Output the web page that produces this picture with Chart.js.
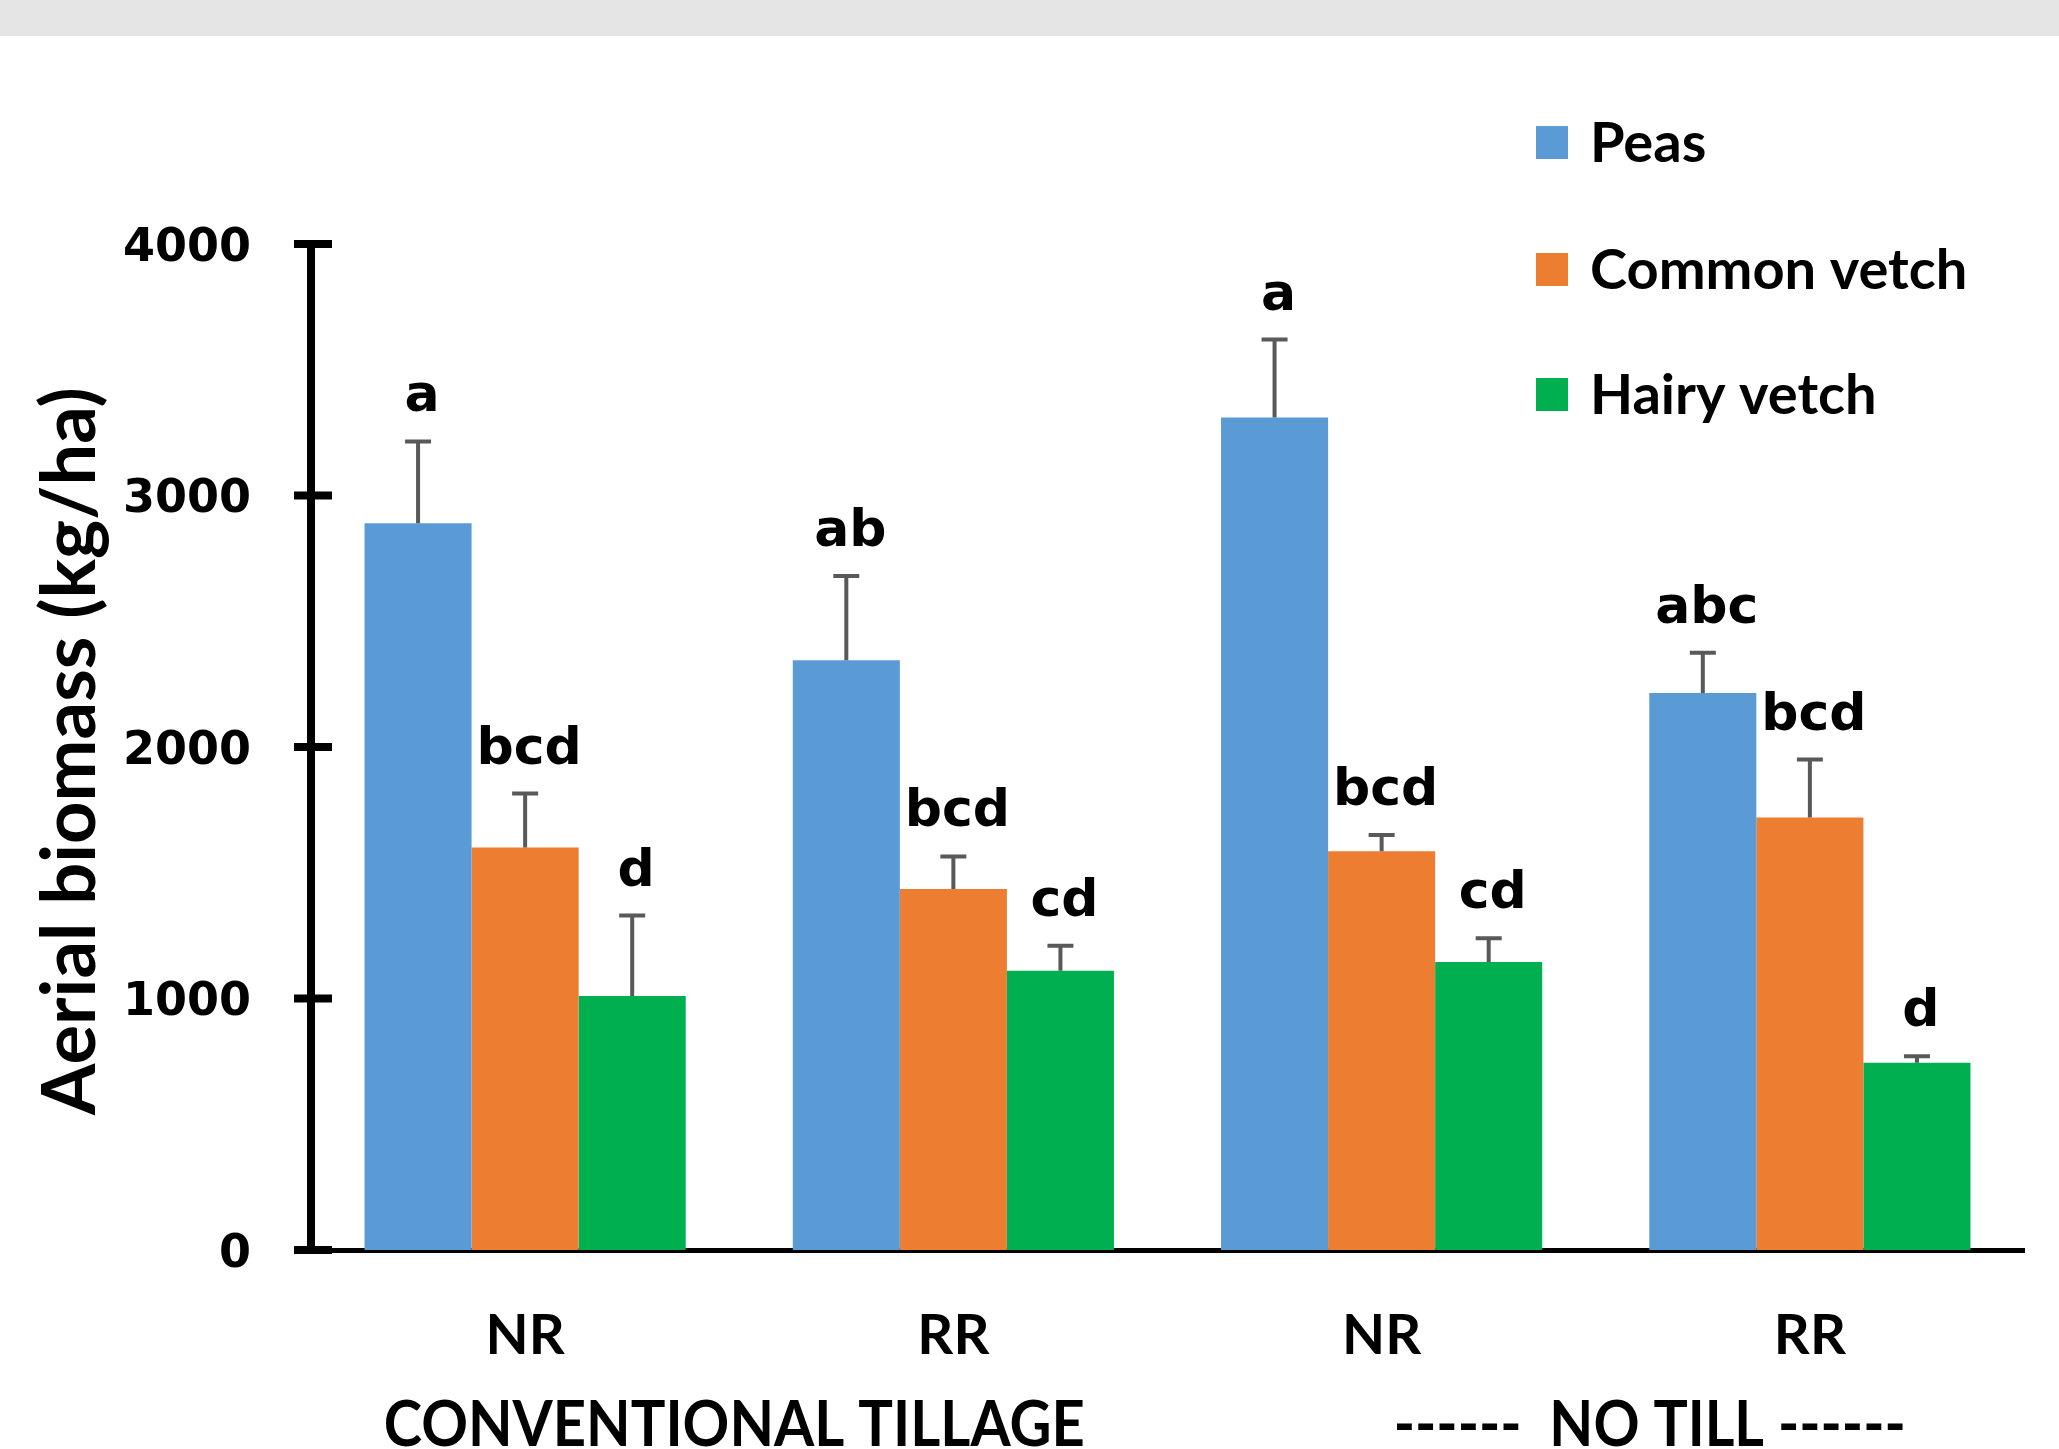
<!DOCTYPE html>
<html>
<head>
<meta charset="utf-8">
<script src="https://cdn.jsdelivr.net/npm/chart.js@4.4.0/dist/chart.umd.min.js"></script>
<style>
  html, body { margin: 0; padding: 0; background: #ffffff; }
  canvas { display: block; }
</style>
</head>
<body>
<canvas id="chartBiomasse" width="2059" height="1449"></canvas>
<script>
// donnees
const categories = ["NR", "RR", "NR", "RR"];
const groupLabels = ["CONVENTIONAL TILLAGE", "------  NO TILL ------"];
const seriesNames = ["Peas", "Common vetch", "Hairy vetch"];

const peas = [2890, 2345, 3310, 2215];
const peasErr = [325, 335, 310, 160];
const peasLetters = ["a", "ab", "a", "abc"];

const commonVetch = [1600, 1435, 1585, 1720];
const commonVetchErr = [215, 130, 65, 230];
const commonVetchLetters = ["bcd", "bcd", "bcd", "bcd"];

const hairyVetch = [1010, 1110, 1145, 745];
const hairyVetchErr = [320, 100, 95, 25];
const hairyVetchLetters = ["d", "cd", "cd", "d"];

const yTicks = [0, 1000, 2000, 3000, 4000];
const yTitle = "Aerial biomass (kg/ha)";

const errors = [peasErr, commonVetchErr, hairyVetchErr];
const letters = [peasLetters, commonVetchLetters, hairyVetchLetters];

// fond blanc + bandeau gris en haut
const fondPlugin = {
  id: "fond",
  beforeDraw(chart) {
    const ctx = chart.ctx;
    ctx.save();
    ctx.fillStyle = "#ffffff";
    ctx.fillRect(0, 0, chart.width, chart.height);
    ctx.fillStyle = "#e5e5e5";
    ctx.fillRect(0, 0, chart.width, 36);
    ctx.restore();
  }
};

// barres d'erreur + lettres de significativite
const erreursPlugin = {
  id: "erreurs",
  afterDatasetsDraw(chart) {
    const ctx = chart.ctx;
    const yScale = chart.scales.y;
    ctx.save();
    chart.data.datasets.forEach((ds, i) => {
      const meta = chart.getDatasetMeta(i);
      meta.data.forEach((bar, j) => {
        const yTop = yScale.getPixelForValue(ds.data[j] + errors[i][j]);
        ctx.strokeStyle = "#595959";
        ctx.lineWidth = 4;
        ctx.beginPath();
        ctx.moveTo(bar.x, bar.y);
        ctx.lineTo(bar.x, yTop);
        ctx.moveTo(bar.x - 13, yTop);
        ctx.lineTo(bar.x + 13, yTop);
        ctx.stroke();

        ctx.fillStyle = "#000000";
        ctx.font = "bold 52px 'DejaVu Sans'";
        ctx.textAlign = "center";
        ctx.textBaseline = "alphabetic";
        ctx.fillText(letters[i][j], bar.x + 4, yTop - 30);
      });
    });
    ctx.restore();
  }
};

// axe y : graduations des deux cotes, titre, legende, groupes
const decorPlugin = {
  id: "decor",
  afterDraw(chart) {
    const ctx = chart.ctx;
    const yScale = chart.scales.y;
    const xScale = chart.scales.x;
    const area = chart.chartArea;
    ctx.save();

    ctx.strokeStyle = "#000000";
    ctx.lineWidth = 8;
    yScale.ticks.forEach((t) => {
      const y = yScale.getPixelForValue(t.value);
      ctx.beginPath();
      ctx.moveTo(area.left - 17, y);
      ctx.lineTo(area.left + 21, y);
      ctx.stroke();
    });

    // titre axe y
    ctx.fillStyle = "#000000";
    ctx.save();
    ctx.translate(95, (area.top + area.bottom) / 2 + 4);
    ctx.rotate(-Math.PI / 2);
    ctx.font = "bold 74px Lato";
    ctx.textAlign = "center";
    ctx.textBaseline = "alphabetic";
    ctx.fillText(yTitle, 0, 0, 742);
    ctx.restore();

    // legende
    const colors = chart.data.datasets.map((d) => d.backgroundColor);
    const legendY = [142, 269, 394];
    ctx.font = "bold 56px Lato";
    ctx.textAlign = "left";
    ctx.textBaseline = "middle";
    seriesNames.forEach((name, i) => {
      ctx.fillStyle = colors[i];
      ctx.fillRect(1536, legendY[i] - 16, 32, 33);
      ctx.fillStyle = "#000000";
      ctx.fillText(name, 1590, legendY[i] + 2, 392);
    });

    // etiquettes de groupe
    ctx.font = "bold 64px Lato";
    ctx.textAlign = "center";
    ctx.textBaseline = "alphabetic";
    const c1 = (xScale.getPixelForValue(0) + xScale.getPixelForValue(1)) / 2;
    const c2 = (xScale.getPixelForValue(2) + xScale.getPixelForValue(3)) / 2 + 54;
    ctx.fillText(groupLabels[0], c1 - 5, 1446, 701);
    ctx.fillText(groupLabels[1], c2, 1446, 512);

    ctx.restore();
  }
};

const ctxBiomasse = document.getElementById("chartBiomasse").getContext("2d");
const chartBiomasse = new Chart(ctxBiomasse, {
  type: "bar",
  data: {
    labels: categories,
    datasets: [
      { label: seriesNames[0], data: peas, backgroundColor: "#5B9BD5" },
      { label: seriesNames[1], data: commonVetch, backgroundColor: "#ED7D31" },
      { label: seriesNames[2], data: hairyVetch, backgroundColor: "#00B050" }
    ]
  },
  options: {
    responsive: false,
    devicePixelRatio: 1,
    animation: false,
    layout: { padding: { top: 244, left: 0, right: 35, bottom: 0 } },
    datasets: {
      bar: { categoryPercentage: 0.75, barPercentage: 1.0, borderWidth: 0 }
    },
    plugins: {
      legend: { display: false },
      tooltip: { enabled: false }
    },
    scales: {
      x: {
        z: 1,
        grid: { display: false, drawTicks: false },
        border: { display: true, color: "#000000", width: 5 },
        ticks: {
          color: "#000000",
          font: { family: "Lato", weight: "bold", size: 56 },
          padding: 52
        },
        afterFit(scale) { scale.height = 199; }
      },
      y: {
        min: 0,
        max: 4000,
        grid: { display: false, drawTicks: false },
        border: { display: true, color: "#000000", width: 8 },
        afterBuildTicks(scale) {
          scale.ticks = yTicks.map((v) => ({ value: v }));
        },
        ticks: {
          color: "#000000",
          font: { family: "DejaVu Sans", weight: "bold", size: 46 },
          padding: 60,
          labelOffset: 5,
          callback: (v) => String(v)
        },
        afterFit(scale) { scale.width = 311; }
      }
    }
  },
  plugins: [fondPlugin, erreursPlugin, decorPlugin]
});
</script>
</body>
</html>
